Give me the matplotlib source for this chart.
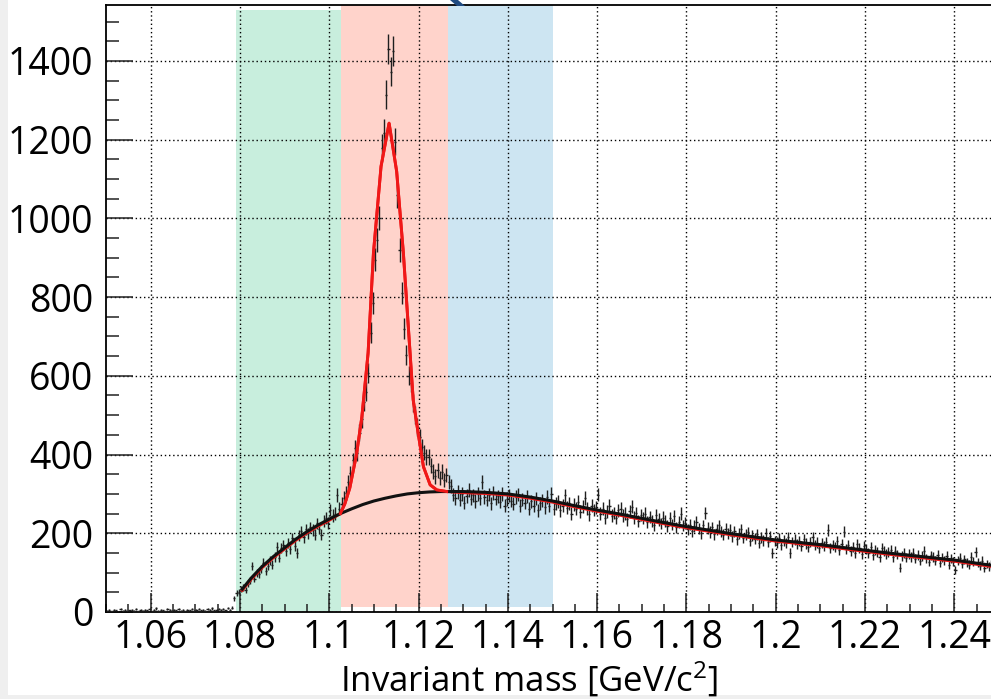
import numpy as np
import matplotlib
matplotlib.use("Agg")
import matplotlib.pyplot as plt
from matplotlib.patches import Rectangle, Polygon
from matplotlib.ticker import MultipleLocator, FixedLocator, FixedFormatter

plt.rcParams['font.family'] = ['Open Sans', 'DejaVu Sans']
plt.rcParams['mathtext.default'] = 'regular'

# ---------------- data ----------------
bin_lo = 1.05
bin_w = 0.0005
counts = [
    3, 5, 2, 6, 4, 1, 7, 3, 5, 2,
    4, 6, 3, 8, 2, 5, 3, 6, 4, 7,
    2, 5, 9, 3, 6, 4, 2, 7, 5, 3,
    6, 4, 8, 3, 5, 2, 6, 4, 7, 3,
    5, 8, 4, 6, 3, 7, 5, 9, 4, 6,
    8, 5, 7, 4, 10, 6, 11, 35, 48, 52,
    58, 62, 55, 72, 80, 117, 85, 100, 96, 110,
    125, 104, 118, 132, 120, 140, 166, 138, 162, 170,
    155, 175, 160, 188, 168, 150, 195, 205, 190, 210,
    200, 215, 208, 196, 225, 212, 196, 230, 238, 226,
    259, 245, 250, 297, 262, 275, 290, 302, 330, 353,
    385, 417, 404, 455, 490, 534, 560, 607, 709, 785,
    895, 945, 1001, 1179, 1217, 1314, 1430, 1373, 1425, 1195,
    1060, 920, 810, 720, 653, 600, 582, 531, 500, 470,
    445, 419, 405, 394, 394, 372, 356, 345, 360, 340,
    356, 335, 348, 330, 320, 298, 290, 305, 285, 300,
    278, 295, 310, 288, 296, 282, 300, 290, 331, 292,
    285, 298, 276, 302, 288, 294, 280, 299, 270, 287,
    296, 283, 275, 292, 298, 270, 285, 278, 293, 262,
    281, 270, 288, 258, 276, 284, 266, 292, 270, 300,
    262, 275, 281, 258, 270, 296, 265, 276, 250, 272,
    262, 280, 255, 268, 290, 262, 248, 270, 259, 266,
    298, 250, 262, 240, 255, 270, 245, 252, 238, 258,
    262, 245, 250, 235, 256, 268, 240, 252, 230, 246,
    238, 250, 228, 242, 232, 220, 246, 235, 225, 240,
    230, 218, 238, 222, 243, 215, 228, 250, 220, 226,
    210, 222, 205, 218, 228, 212, 200, 220, 252, 214,
    203, 215, 198, 210, 220, 205, 196, 212, 200, 208,
    192, 205, 185, 200, 210, 188, 196, 202, 180, 195,
    186, 198, 175, 190, 182, 200, 178, 192, 150, 180,
    176, 188, 170, 182, 175, 190, 150, 178, 184, 172,
    180, 168, 185, 174, 165, 178, 190, 170, 176, 162,
    175, 168, 178, 208, 162, 170, 164, 180, 158, 172,
    204, 160, 170, 155, 166, 150, 172, 162, 148, 168,
    160, 150, 165, 145, 158, 152, 140, 162, 155, 148,
    152, 158, 140, 155, 146, 113, 142, 150, 138, 148,
    140, 150, 135, 145, 130, 142, 155, 136, 128, 144,
    140, 130, 146, 125, 138, 132, 142, 120, 136, 128,
    107, 130, 138, 122, 134, 126, 120, 140, 128, 153,
    126, 118, 130, 112, 122, 116, 120, 110, 118, 114,
]

# background fit (black)
bkg_x = [1.0805, 1.0825, 1.085, 1.0875, 1.09, 1.0925, 1.095, 1.0975, 1.1, 1.1025,
         1.105, 1.1075, 1.11, 1.1125, 1.115, 1.1175, 1.12, 1.1225, 1.125, 1.1275,
         1.13, 1.135, 1.14, 1.145, 1.15, 1.155, 1.16, 1.165, 1.17, 1.175,
         1.18, 1.185, 1.19, 1.195, 1.2, 1.205, 1.21, 1.215, 1.22, 1.225,
         1.23, 1.235, 1.24, 1.245, 1.25]
bkg_y = [58, 86, 116, 141, 163, 185, 204, 221, 236, 250,
         262, 273, 282, 289, 295, 300, 303, 305, 306, 306,
         306, 304, 300, 292, 282, 270, 259, 249, 238, 227,
         217, 208, 199, 191, 183, 177, 171, 164, 157, 150,
         144, 138, 132, 124, 116]

# total fit (red)
tot_x = [1.0805, 1.0825, 1.085, 1.0875, 1.09, 1.0925, 1.095, 1.0975, 1.1, 1.1025,
         1.1035, 1.1046, 1.1061, 1.1073, 1.1087, 1.1099, 1.1116, 1.1134, 1.1151, 1.1166,
         1.1181, 1.1188, 1.1199, 1.1211, 1.1226, 1.1241, 1.1263, 1.13, 1.135, 1.14,
         1.145, 1.15, 1.155, 1.16, 1.165, 1.17, 1.175, 1.18, 1.185, 1.19,
         1.195, 1.2, 1.205, 1.21, 1.215, 1.22, 1.225, 1.23, 1.235, 1.24,
         1.245, 1.25]
tot_y = [55, 83, 113, 138, 160, 182, 201, 218, 233, 250,
         275, 315, 400, 495, 658, 912, 1132, 1242, 1119, 912,
         658, 539, 455, 369, 323, 310, 306, 303, 301, 297,
         289, 279, 267, 256, 246, 235, 224, 214, 205, 196,
         188, 180, 174, 168, 161, 154, 147, 141, 135, 129,
         121, 113]

# selection windows: (x0, x1, y0, y1)
win_sideband_lo = (1.0791, 1.1026, 3, 1530)
win_signal = (1.1026, 1.1266, 13, 1560)
win_sideband_hi = (1.1266, 1.1502, 13, 1560)
win_colors = ['#c8eedd', '#ffd3cb', '#cde5f2']

x_ticks = [1.06, 1.08, 1.10, 1.12, 1.14, 1.16, 1.18, 1.20, 1.22, 1.24]
x_ticklabels = ['1.06', '1.08', '1.1', '1.12', '1.14', '1.16', '1.18', '1.2', '1.22', '1.24']
y_ticks = [0, 200, 400, 600, 800, 1000, 1200, 1400]
y_ticklabels = ['0', '200', '400', '600', '800', '1000', '1200', '1400']

# ---------------- figure ----------------
W, H = 991, 699
fig = plt.figure(figsize=(W / 100, H / 100), dpi=100)
fig.patch.set_facecolor('#efefef')
fig.add_artist(Rectangle((8 / W, 4 / H), 1, 1 - 4 / H, transform=fig.transFigure,
                         facecolor='white', edgecolor='none', zorder=0))
# fragment of slide decoration at top
fig.add_artist(Polygon([(450 / W, 1.0), (458 / W, 1.0), (465 / W, 1 - 6 / H), (457 / W, 1 - 6 / H)],
                       closed=True, transform=fig.transFigure, facecolor='#1f4a80',
                       edgecolor='none', zorder=0.5))

ax_left, ax_right = 106, 999
ax_top, ax_bottom = 5, 612
ax = fig.add_axes([ax_left / W, 1 - ax_bottom / H, (ax_right - ax_left) / W, (ax_bottom - ax_top) / H])
ax.set_xlim(1.05, 1.25)
ax.set_ylim(0, 1542)

for (x0, x1, y0, y1), c in zip([win_sideband_lo, win_signal, win_sideband_hi], win_colors):
    ax.add_patch(Rectangle((x0, y0), x1 - x0, y1 - y0, facecolor=c, edgecolor='none', zorder=0.5))

counts_arr = np.array(counts, dtype=float)
centers = bin_lo + bin_w * (np.arange(len(counts_arr)) + 0.5)
ax.errorbar(centers, counts_arr, yerr=np.sqrt(counts_arr), xerr=bin_w / 2, fmt='none',
            ecolor='#1e1e1e', elinewidth=1.0, capsize=0, zorder=3)

ax.plot(tot_x, tot_y, color='#f01818', lw=2.1, zorder=4, solid_joinstyle='miter')
ax.plot(bkg_x, bkg_y, color='#111111', lw=2.2, zorder=4.5)
# red peak drawn over background line in the signal region
sig = [i for i, x in enumerate(tot_x) if 1.1025 <= x <= 1.1263]
ax.plot([tot_x[i] for i in sig], [tot_y[i] for i in sig], color='#f01818', lw=2.1, zorder=5)

ax.xaxis.set_major_locator(FixedLocator(x_ticks))
ax.xaxis.set_major_formatter(FixedFormatter(x_ticklabels))
ax.yaxis.set_major_locator(FixedLocator(y_ticks))
ax.yaxis.set_major_formatter(FixedFormatter(y_ticklabels))
ax.xaxis.set_minor_locator(MultipleLocator(0.005))
ax.yaxis.set_minor_locator(MultipleLocator(50))

ax.tick_params(axis='both', which='both', direction='in', colors='#222222', width=1.1,
               labelcolor='black', labelsize=27)
ax.tick_params(axis='x', which='major', length=13.7, pad=5)
ax.tick_params(axis='x', which='minor', length=5.8)
ax.tick_params(axis='y', which='major', length=19.4, pad=9)
ax.tick_params(axis='y', which='minor', length=9.4)
ax.tick_params(top=False, right=False, which='both')

ax.grid(True, which='major', color='black', linestyle=(0, (1, 2)), linewidth=1.0)
for s in ['left', 'bottom', 'top']:
    ax.spines[s].set_linewidth(1.3)
    ax.spines[s].set_color('black')
ax.spines['right'].set_visible(False)

fig.text(529 / W, 1 - 680 / H, 'Invariant mass [GeV/c$^{2}$]', ha='center', va='center', fontsize=25)

fig.savefig('out.png', dpi=100)
